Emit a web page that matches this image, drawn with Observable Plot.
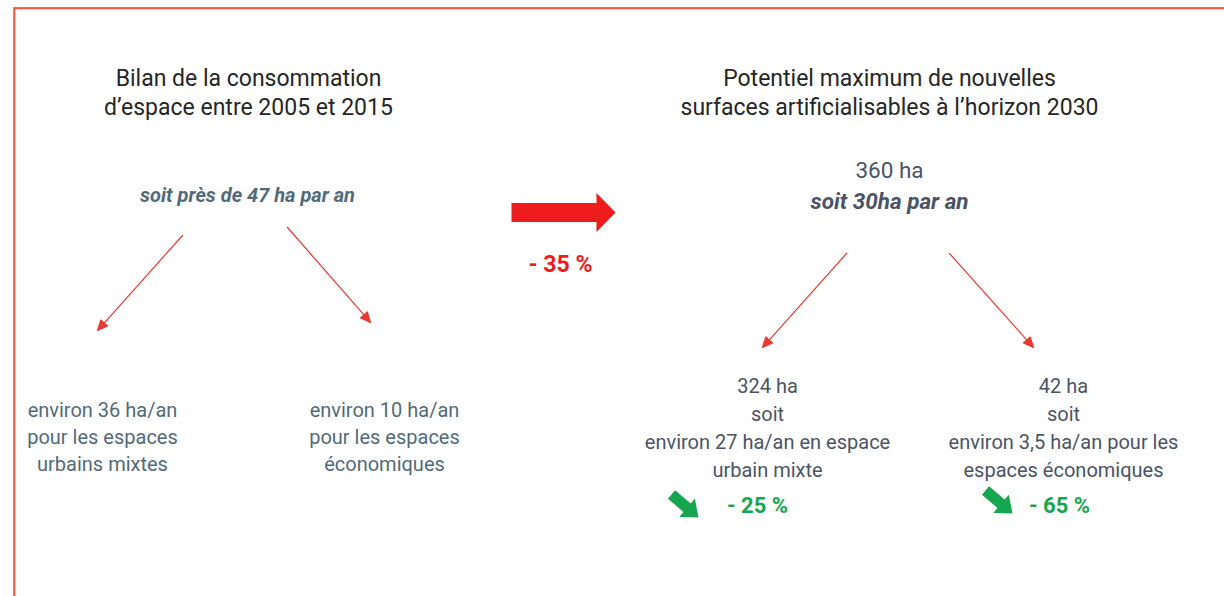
<!DOCTYPE html>
<html><head><meta charset="utf-8">
<script src="https://cdn.jsdelivr.net/npm/d3@7"></script>
<script src="https://cdn.jsdelivr.net/npm/@observablehq/plot@0.6"></script>
<style>body{margin:0;background:#fff} svg{display:block}</style>
</head><body><div id="chart"></div>
<script>
// ---- data ----
const headings = ["Bilan de la consommation\nd’espace entre 2005 et 2015", "Potentiel maximum de nouvelles\nsurfaces artificialisables à l’horizon 2030"];
const pastRate = 47;               // ha par an (2005-2015)
const pastSplit = [36, 10];        // ha/an
const pastLabels = ["pour les espaces\nurbains mixtes", "pour les espaces\néconomiques"];
const futureTotal = 360;           // ha à l'horizon 2030
const futureRate = 30;             // ha par an
const futureSplit = [324, 42];     // ha
const futureSplitRate = [27, 3.5]; // ha/an
const futureLabels = ["en espace\nurbain mixte", "pour les\nespaces économiques"];
const totalChange = -35;           // %
const splitChange = [-25, -65];    // %

// ---- layout (pixels) ----
const W = 1224, H = 596;
const L = {
  headings: [{x: 248, y: 65}, {x: 889, y: 65}],
  pastRate: {x: 247, y: 187},
  pastSplit: [{x: 102, y: 397}, {x: 384, y: 397}],
  futureTotal: {x: 889, y: 162},
  futureRate: {x: 889, y: 193},
  futureSplit: [{x: 767, y: 372}, {x: 1063, y: 372}],
  totalChange: {x: 560, y: 255},
  splitChange: [{x: 757, y: 497}, {x: 1059, y: 497}],
  thinArrows: [[182, 235, 97, 330], [287, 227, 370, 322], [846, 253, 762, 347], [949, 253, 1033, 347]],
  bigArrow: [511, 212, 615, 212],
  greenArrows: [[671, 494, 698, 517], [985, 490, 1012, 513]]
};

const fr = d3.formatLocale({decimal: ",", thousands: "\u00a0", grouping: [3], currency: ["", "€"]});
const num = fr.format("~g");
const pct = v => `- ${Math.abs(v)} %`;

const C = {title: "#262626", slate: "#526a79", slate2: "#4a5466", red: "#ee1c1c", green: "#17a650", line: "#e83a33", frame: "#ec5d48"};

const headRows = headings.map((t, i) => ({text: t, ...L.headings[i]}));
const pastRateRows = [{text: `soit près de ${pastRate} ha par an`, ...L.pastRate}];
const pastRows = pastSplit.map((v, i) => ({text: `environ ${num(v)} ha/an\n${pastLabels[i]}`, ...L.pastSplit[i]}));
const futTotalRows = [{text: `${futureTotal} ha`, ...L.futureTotal}];
const futRateRows = [{text: `soit ${futureRate}ha par an`, ...L.futureRate}];
const futRows = futureSplit.map((v, i) => {
  const [a, b] = futureLabels[i].split("\n");
  return {text: `${v} ha\nsoit\nenviron ${num(futureSplitRate[i])} ha/an ${a}\n${b}`, ...L.futureSplit[i]};
});
const redPct = [{text: pct(totalChange), ...L.totalChange}];
const greenPct = splitChange.map((v, i) => ({text: pct(v), ...L.splitChange[i]}));

const toVec = ([x1, y1, x2, y2]) => ({x: x1, y: y1, len: Math.hypot(x2 - x1, y2 - y1), rot: Math.atan2(x2 - x1, -(y2 - y1)) * 180 / Math.PI});
const thin = L.thinArrows.map(toVec);
const big = [toVec(L.bigArrow)];
const green = L.greenArrows.map(toVec);

const thinShape = {draw(ctx, l) {
  const h = 10, w = 4.5;
  ctx.moveTo(0, 0); ctx.lineTo(0, -l + h);
  ctx.moveTo(-w, -l + h); ctx.lineTo(0, -l); ctx.lineTo(w, -l + h); ctx.closePath();
}};
const block = (b, w, h) => ({draw(ctx, l) {
  ctx.moveTo(-b, 0); ctx.lineTo(-b, -l + h); ctx.lineTo(-w, -l + h); ctx.lineTo(0, -l);
  ctx.lineTo(w, -l + h); ctx.lineTo(b, -l + h); ctx.lineTo(b, 0); ctx.closePath();
}});

const txt = (data, o) => Plot.text(data, {x: "x", y: "y", text: "text", textAnchor: "middle", lineAnchor: "top", fontFamily: "Roboto", ...o});

const chart = Plot.plot({
  width: W, height: H,
  margin: 0,
  x: {domain: [0, W], range: [0, W], axis: null},
  y: {domain: [0, H], range: [0, H], axis: null},
  length: {type: "identity"},
  style: {background: "#fff", fontFamily: "Roboto"},
  marks: [
    Plot.frame({stroke: C.frame, strokeWidth: 2.2, insetLeft: 13.8, insetTop: 7.7, insetRight: -6, insetBottom: -0.6}),
    txt(headRows, {fontSize: 23, lineHeight: 29 / 23, fill: C.title}),
    txt(pastRateRows, {fontSize: 20, fontWeight: "bold", fontStyle: "italic", fill: C.slate}),
    txt(pastRows, {fontSize: 20, lineHeight: 1.36, fill: C.slate}),
    txt(futTotalRows, {fontSize: 22.5, fill: C.slate2}),
    txt(futRateRows, {fontSize: 22.5, fontWeight: "bold", fontStyle: "italic", fill: C.slate2}),
    txt(futRows, {fontSize: 20, lineHeight: 1.415, fill: C.slate2}),
    txt(redPct, {fontSize: 23, fontWeight: "bold", fill: C.red}),
    txt(greenPct, {fontSize: 22, fontWeight: "bold", fill: C.green}),
    Plot.vector(thin, {x: "x", y: "y", length: "len", rotate: "rot", anchor: "start", shape: thinShape, stroke: C.line, fill: C.line, strokeWidth: 1.2}),
    Plot.vector(big, {x: "x", y: "y", length: "len", rotate: "rot", anchor: "start", shape: block(9.5, 19.5, 19), fill: C.red, stroke: "none"}),
    Plot.vector(green, {x: "x", y: "y", length: "len", rotate: "rot", anchor: "start", shape: block(5.5, 12, 15), fill: C.green, stroke: "none"})
  ]
});
document.getElementById("chart").append(chart);
</script>
</body></html>
